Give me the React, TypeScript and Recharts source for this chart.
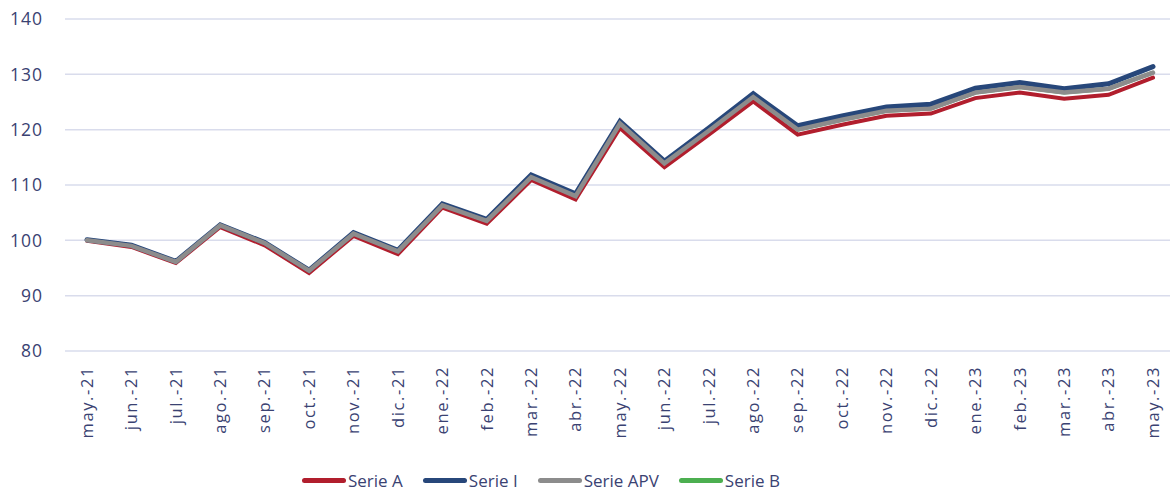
import React from "react";
import { CartesianGrid, Line, LineChart, XAxis, YAxis } from "recharts";

const months = [
  "may.-21", "jun.-21", "jul.-21", "ago.-21", "sep.-21", "oct.-21", "nov.-21", "dic.-21",
  "ene.-22", "feb.-22", "mar.-22", "abr.-22", "may.-22", "jun.-22", "jul.-22", "ago.-22",
  "sep.-22", "oct.-22", "nov.-22", "dic.-22", "ene.-23", "feb.-23", "mar.-23", "abr.-23",
  "may.-23",
];

const serieA = [
  99.9, 98.8, 95.9, 102.4, 99.1, 94.1, 100.8, 97.5, 105.9, 103.0, 110.9, 107.4, 120.3,
  113.2, 119.1, 125.1, 119.1, 120.9, 122.5, 122.9, 125.7, 126.7, 125.6, 126.3, 129.4,
];
const serieI = [
  100.1, 99.1, 96.2, 102.8, 99.6, 94.6, 101.4, 98.2, 106.6, 103.8, 111.8, 108.4, 121.5,
  114.3, 120.3, 126.5, 120.7, 122.5, 124.1, 124.6, 127.5, 128.5, 127.4, 128.3, 131.4,
];
const serieAPV = [
  100.0, 99.0, 96.1, 102.7, 99.5, 94.5, 101.2, 98.0, 106.3, 103.5, 111.4, 108.0, 121.1,
  113.9, 119.8, 125.9, 120.0, 121.8, 123.4, 123.8, 126.7, 127.7, 126.7, 127.4, 130.3,
];
const serieB = [
  100.0, 99.0, 96.1, 102.7, 99.5, 94.5, 101.2, 98.0, 106.3, 103.5, 111.4, 108.0, 121.1,
  113.9, 119.8, 125.9, 120.0, 121.8, 123.4, 123.8, 126.7, 127.7, 126.7, 127.4, 130.3,
];

const yTicks = [80, 90, 100, 110, 120, 130, 140];

const data = months.map((m, i) => ({
  month: m,
  a: serieA[i],
  i: serieI[i],
  apv: serieAPV[i],
  b: serieB[i],
}));

const legendItems = [
  { name: "Serie A", color: "#B11E2D" },
  { name: "Serie I", color: "#27477A" },
  { name: "Serie APV", color: "#8C8C8C" },
  { name: "Serie B", color: "#4CAF50" },
];

const textColor = "#3A4272";
const font = "'Open Sans', 'Noto Sans', sans-serif";

const MonthTick = (props: any) => {
  const { x, y, payload } = props;
  return (
    <g transform={`translate(${x},${y})`}>
      <text
        transform="rotate(-90)"
        x={-7}
        y={0}
        dy="0.35em"
        textAnchor="end"
        fill={textColor}
        fontSize={16.5}
        letterSpacing={1.6}
        fontFamily={font}
      >
        {payload.value}
      </text>
    </g>
  );
};

export default function App() {
  return (
    <div
      style={{
        position: "absolute",
        left: 0,
        top: 0,
        width: 1170,
        height: 492,
        background: "#fff",
      }}
    >
      <LineChart
        width={1170}
        height={451}
        data={data}
        margin={{ top: 19, right: 0, bottom: 0, left: 0 }}
      >
        <CartesianGrid vertical={false} stroke="#D9DCEC" strokeWidth={1.5} />
        <XAxis
          dataKey="month"
          interval={0}
          axisLine={false}
          tickLine={false}
          height={100}
          padding={{ left: 22, right: 17 }}
          tick={<MonthTick />}
        />
        <YAxis
          domain={[80, 140]}
          ticks={yTicks}
          width={65}
          axisLine={false}
          tickLine={false}
          tickMargin={16}
          tick={{ fill: textColor, fontSize: 17.5, fontFamily: font, letterSpacing: 1 }}
        />
        <Line
          dataKey="b"
          name="Serie B"
          stroke="#4CAF50"
          strokeWidth={4}
          dot={false}
          isAnimationActive={false}
        />
        <Line
          dataKey="a"
          name="Serie A"
          stroke="#B11E2D"
          strokeWidth={4}
          dot={false}
          strokeLinecap="round"
          isAnimationActive={false}
        />
        <Line
          dataKey="i"
          name="Serie I"
          stroke="#27477A"
          strokeWidth={5}
          dot={false}
          strokeLinecap="round"
          isAnimationActive={false}
        />
        <Line
          dataKey="apv"
          name="Serie APV"
          stroke="#8C8C8C"
          strokeWidth={4.5}
          dot={false}
          strokeLinecap="round"
          isAnimationActive={false}
        />
      </LineChart>
      <div
        style={{
          height: 41,
          display: "flex",
          alignItems: "center",
          paddingLeft: 302,
          paddingTop: 18,
          boxSizing: "border-box",
          fontFamily: font,
          fontSize: 17,
          lineHeight: "23px",
          color: textColor,
        }}
      >
        {legendItems.map((it) => (
          <div key={it.name} style={{ display: "flex", alignItems: "center", marginRight: 20 }}>
            <span
              style={{
                display: "inline-block",
                width: 44,
                height: 5,
                borderRadius: 3,
                background: it.color,
                marginRight: 2,
              }}
            />
            <span>{it.name}</span>
          </div>
        ))}
      </div>
    </div>
  );
}
